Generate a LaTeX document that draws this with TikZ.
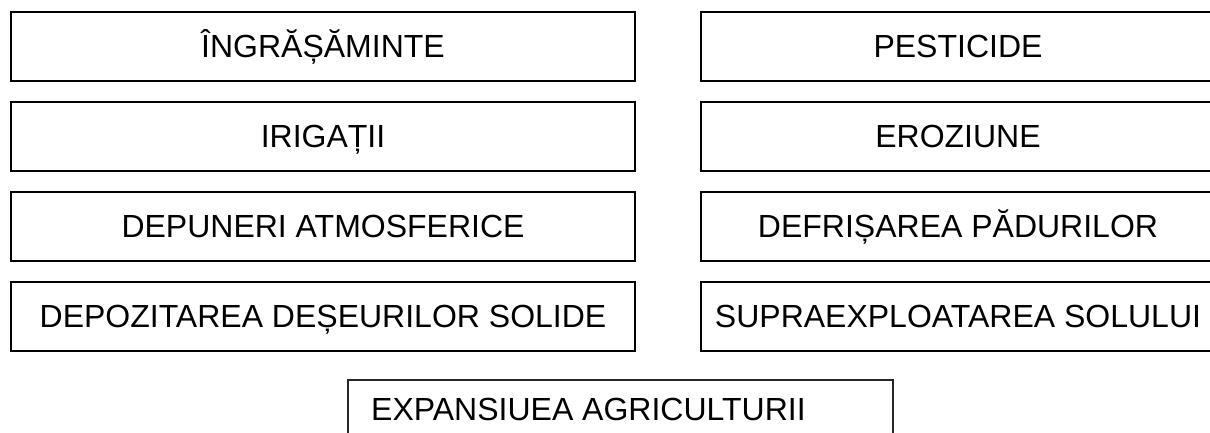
\documentclass[tikz,border=0pt]{standalone}
\usepackage{fontspec}
\setmainfont{Liberation Sans}
\begin{document}
\begin{tikzpicture}[x=1pt,y=1pt,
  txt/.style={font=\fontsize{32}{36}\selectfont,text height=22.9pt,text depth=0pt},
  rowbox/.style={draw=black,line width=1.8pt,inner sep=0pt,minimum height=69pt,txt},
  leftbox/.style={rowbox,minimum width=624pt},
  rightbox/.style={rowbox,minimum width=514pt},
  bottombox/.style={draw=black!85,line width=1.3pt,inner sep=0pt,minimum height=69pt,minimum width=545pt}]
\useasboundingbox (0,0) rectangle (1210,-432);
\clip (0,0) rectangle (1210,-432);
\node[leftbox] (l1) at (323,-46.5) {ÎNGRĂȘĂMINTE};
\node[leftbox] (l2) at (323,-136.5) {IRIGAȚII};
\node[leftbox] (l3) at (323,-226.5) {DEPUNERI ATMOSFERICE};
\node[leftbox] (l4) at (323,-316.5) {DEPOZITAREA DEȘEURILOR SOLIDE};
\node[rightbox] (r1) at (958,-46.5) {PESTICIDE};
\node[rightbox] (r2) at (958,-136.5) {EROZIUNE};
\node[rightbox] (r3) at (958,-226.5) {DEFRIȘAREA PĂDURILOR};
\node[rightbox] (r4) at (958,-316.5) {SUPRAEXPLOATAREA SOLULUI};
\node[bottombox] (b) at (620.5,-414.5) {};
\node[txt,inner sep=0pt,anchor=west] (bt) at (371,-409) {EXPANSIUEA AGRICULTURII};
\end{tikzpicture}
\end{document}
